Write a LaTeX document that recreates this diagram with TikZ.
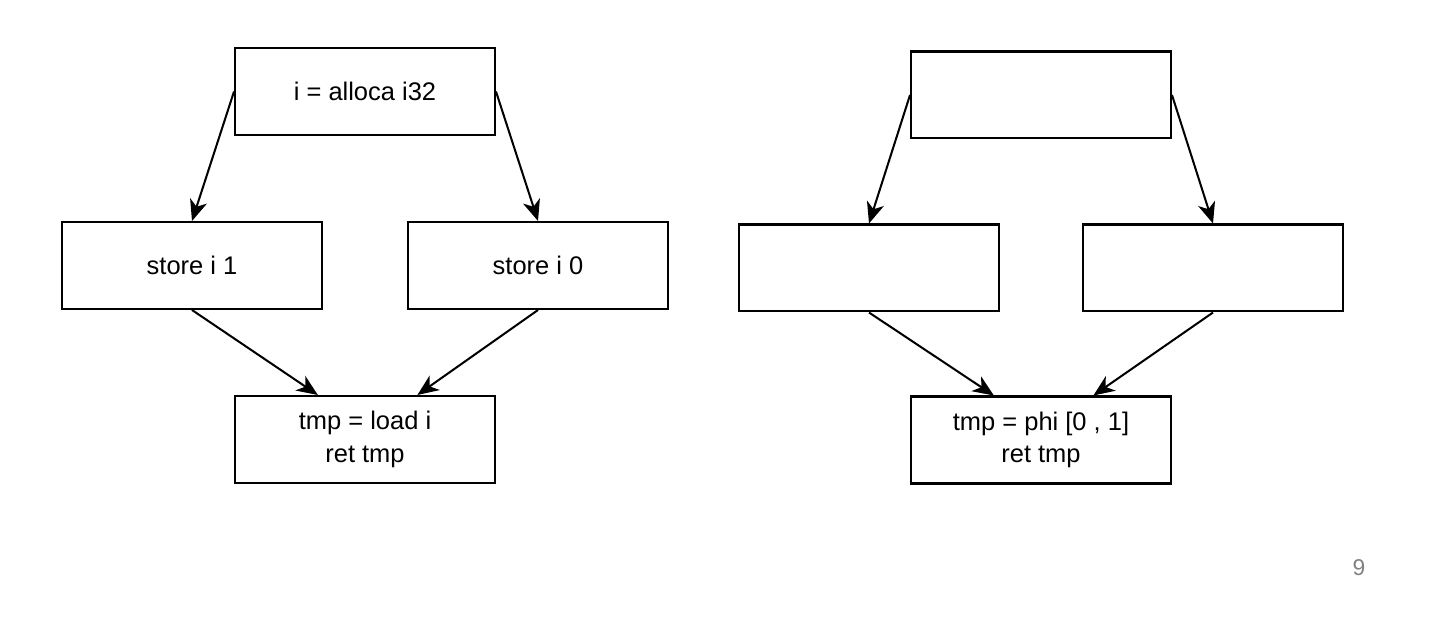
\documentclass[tikz,border=0pt]{standalone}
\usepackage{fontspec}
\setmainfont{Liberation Sans}
\usetikzlibrary{arrows.meta,calc}

\begin{document}
\begin{tikzpicture}[x=0.02cm, y=-0.02cm,
        box/.style={draw, line width=1.15pt, minimum width=5.2cm, minimum height=1.74cm,
            align=center, font=\fontsize{14.5}{18.5}\selectfont},
        edge/.style={line width=1.15pt, -{Stealth[length=12pt,width=10pt,inset=3.5pt]}}]
        \useasboundingbox (0,0) rectangle (1431,621);

        % left: with alloca
        \node[box] (alloca) at (365,91.5) {i = alloca i32};
        \node[box] (storeone) at (192,265.5) {store i 1};
        \node[box] (storezero) at (538,265.5) {store i 0};
        \node[box] (load) at (365,439.5) {tmp = load i\\ret tmp};

        \draw[edge] (alloca.west) -- (storeone.north);
        \draw[edge] (alloca.east) -- (storezero.north);
        \draw[edge] (storeone.south) -- ($(load.north west)!0.32!(load.north east)$);
        \draw[edge] (storezero.south) -- ($(load.north west)!0.7!(load.north east)$);

        % right: with phi
        \node[box] (phitop) at (1041,95) {};
        \node[box] (phileft) at (869,268) {};
        \node[box] (phiright) at (1213,268) {};
        \node[box] (phi) at (1041,440) {tmp = phi [0 , 1]\\ret tmp};

        \draw[edge] (phitop.west) -- (phileft.north);
        \draw[edge] (phitop.east) -- (phiright.north);
        \draw[edge] (phileft.south) -- ($(phi.north west)!0.32!(phi.north east)$);
        \draw[edge] (phiright.south) -- ($(phi.north west)!0.7!(phi.north east)$);

        % page number
        \node[text=black!50, font=\fontsize{13}{15}\selectfont] (pagenum) at (1359,568) {9};
\end{tikzpicture}
\end{document}
